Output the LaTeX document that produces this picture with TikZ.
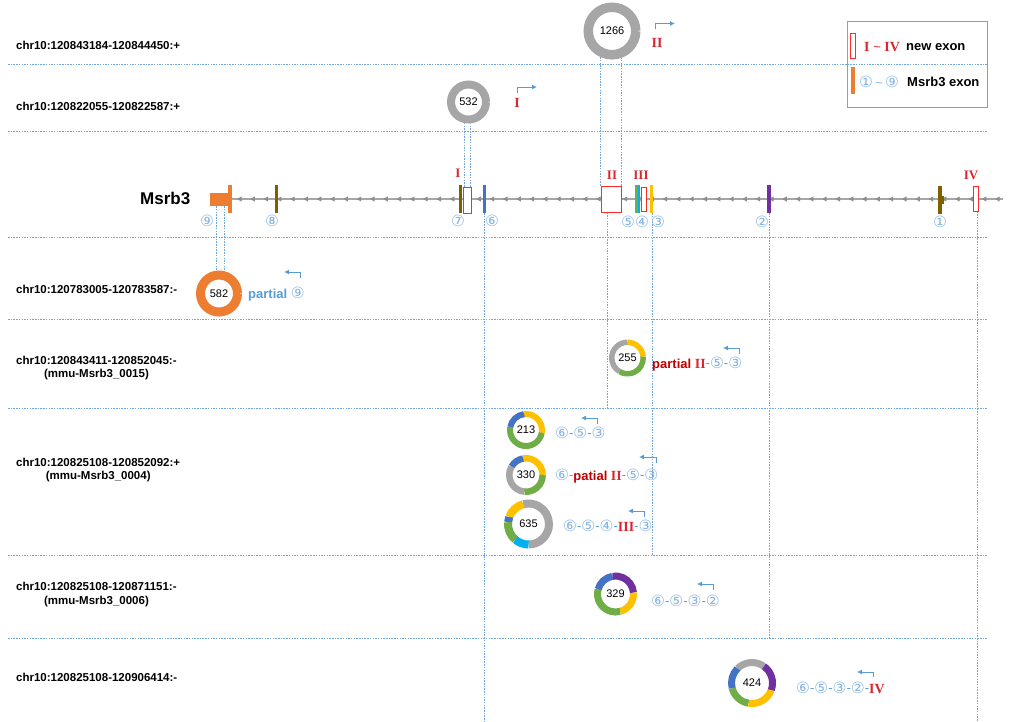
\documentclass[tikz,border=0pt]{standalone}
\usepackage{fontspec}
\setmainfont{Liberation Sans}
\newfontfamily\dv{DejaVu Sans}
\newfontfamily\rs{Liberation Serif}
\usetikzlibrary{arrows.meta,backgrounds}
\definecolor{gridblue}{HTML}{6FA6DB}
\definecolor{arrblue}{HTML}{5B9BD5}
\definecolor{circblue}{HTML}{86B4E2}
\definecolor{exred}{HTML}{FF2A2A}
\definecolor{romred}{HTML}{D92630}
\definecolor{darkred}{HTML}{C00000}
\definecolor{exorange}{HTML}{ED7D31}
\definecolor{exbrown}{HTML}{7F6000}
\definecolor{exblue}{HTML}{4472C4}
\definecolor{exgreen}{HTML}{70AD47}
\definecolor{excyan}{HTML}{00B0F0}
\definecolor{exyellow}{HTML}{FFC000}
\definecolor{expurple}{HTML}{7030A0}
\definecolor{ringgray}{HTML}{A6A6A6}
\newcommand\cn[1]{{\dv\fontsize{15.5}{15.5}\selectfont\color{circblue}#1}}
\newcommand\rn[1]{{\rs\bfseries\fontsize{14}{14}\selectfont\color{romred}#1}}
\newcommand\dsh{{\color{arrblue}\raisebox{1pt}{-}}}
\newcommand\seg[6]{\draw[line width=#3, #6] (#1.center) ++(#4:#2) arc[start angle=#4, end angle=#5, radius=#2];}
\begin{document}
\begin{tikzpicture}[x=1pt,y=-1pt,
  rowlab/.style={font=\bfseries\fontsize{11.5}{13.5}\selectfont, anchor=west, inner sep=0pt, align=center},
  num/.style={circle, fill=white, inner sep=0pt, font=\fontsize{11}{12}\selectfont},
  exbar/.style={rectangle, inner sep=0pt, minimum width=3pt, minimum height=28pt},
  newex/.style={rectangle, draw=exred, line width=0.9pt, fill=white, inner sep=0pt},
  cnum/.style={inner sep=0pt},
  roman/.style={font=\rs\bfseries\fontsize{13}{13}\selectfont, text=romred, inner sep=0pt},
  grid/.style={draw=gridblue, line width=0.55pt, dash pattern=on 1.5pt off 1.2pt},
  bent/.style={draw=arrblue, line width=0.9pt, -{Latex[length=5pt,width=5pt]}},
  lab/.style={anchor=west, inner sep=0pt, font=\fontsize{13}{13}\selectfont},
]
\useasboundingbox (0,0) rectangle (1010,721);

% grid line ends
\coordinate (h1) at (8,64);  \coordinate (h1e) at (988,64);
\coordinate (h2) at (8,131); \coordinate (h2e) at (988,131);
\coordinate (h3) at (8,237); \coordinate (h3e) at (988,237);
\coordinate (h4) at (8,319); \coordinate (h4e) at (988,319);
\coordinate (h5) at (8,408); \coordinate (h5e) at (988,408);
\coordinate (h6) at (8,555); \coordinate (h6e) at (988,555);
\coordinate (h7) at (8,638); \coordinate (h7e) at (988,638);
\coordinate (bot) at (8,721);
\coordinate (geneend) at (1003,199);

% row labels
\node[rowlab] (r1) at (16,45) {chr10:120843184-120844450:+};
\node[rowlab] (r2) at (16,106.5) {chr10:120822055-120822587:+};
\node[rowlab] (r3) at (16,289) {chr10:120783005-120783587:-};
\node[rowlab] (r4) at (16,368) {chr10:120843411-120852045:-\\(mmu-Msrb3\_0015)};
\node[rowlab] (r5) at (16,470) {chr10:120825108-120852092:+\\(mmu-Msrb3\_0004)};
\node[rowlab] (r6) at (16,594.5) {chr10:120825108-120871151:-\\(mmu-Msrb3\_0006)};
\node[rowlab] (r7) at (16,677) {chr10:120825108-120906414:-};

% gene
\node[anchor=west, inner sep=0pt, font=\bfseries\fontsize{17}{17}\selectfont] (msrb3) at (140,198) {Msrb3};
\node[rectangle, fill=exorange, inner sep=0pt, minimum width=19pt, minimum height=13pt] (e9) at (219.5,199.5) {};
\node[exbar, fill=exorange, minimum width=4pt] (e9cap) at (230,199) {};
\draw[ringgray, line width=2pt] (e9cap.east) -- (geneend);
\foreach \i in {0,...,57} {
  \fill[ringgray!85!black] ({237+13.3*\i},199) -- ++(4.5,-2.6) -- ++(0,5.2) -- cycle;
}
\node[exbar, fill=exbrown] (e8) at (276,199) {};
\node[exbar, fill=exbrown] (e7) at (460,199) {};
\node[newex, minimum width=8pt, minimum height=26pt] (bI) at (467,200) {};
\node[exbar, fill=exblue] (e6) at (484,199) {};
\node[newex, minimum width=20pt, minimum height=26pt] (bII) at (611,199) {};
\node[exbar, fill=exgreen] (e5) at (636,199) {};
\node[exbar, fill=excyan, minimum width=2.5pt] (e4) at (639,199) {};
\node[newex, minimum width=5pt, minimum height=24pt] (bIII) at (643.5,199) {};
\node[exbar, fill=exyellow] (e3) at (651,199) {};
\node[exbar, fill=expurple, minimum width=3.5pt] (e2) at (769,199) {};
\node[exbar, fill=exbrown, minimum width=3.5pt] (e1) at (940,199.5) {};
\fill[exbrown] (e1.east) ++(0,-4) rectangle ++(2.5,8);
\node[newex, minimum width=5pt, minimum height=25pt] (bIV) at (975.5,198.5) {};

% exon labels
\node[cnum] (l9) at (207,221) {\cn{⑨}};
\node[cnum] (l8) at (272,221) {\cn{⑧}};
\node[cnum] (l7) at (458,221) {\cn{⑦}};
\node[cnum] (l6) at (492,221) {\cn{⑥}};
\node[cnum] (l5) at (628,222) {\cn{⑤}};
\node[cnum] (l4) at (642,222) {\cn{④}};
\node[cnum] (l3) at (658,222) {\cn{③}};
\node[cnum] (l2) at (762,222) {\cn{②}};
\node[cnum] (l1) at (940,222) {\cn{①}};
\node[roman] (rI) at (458,173) {I};
\node[roman] (rII) at (612,175) {II};
\node[roman] (rIII) at (641,175) {III};
\node[roman] (rIV) at (971,175) {IV};

% donuts
\node[num, minimum size=57pt] (d1266) at (612,31) {1266};
\seg{d1266}{23.75pt}{9.5pt}{0}{360}{ringgray}
\node[num, minimum size=43pt] (d532) at (468.5,102) {532};
\seg{d532}{17.5pt}{8pt}{0}{360}{ringgray}
\node[num, minimum size=46pt] (d582) at (219,293.5) {582};
\seg{d582}{18.5pt}{9pt}{0}{360}{exorange}
\node[num, minimum size=37pt] (d255) at (627.5,358) {255};
\seg{d255}{15.75pt}{5.5pt}{5}{90}{exyellow}
\seg{d255}{15.75pt}{5.5pt}{90}{240}{ringgray}
\seg{d255}{15.75pt}{5.5pt}{240}{365}{exgreen}
\node[num, minimum size=38pt] (d213) at (526,430) {213};
\seg{d213}{16pt}{6pt}{-10}{97}{exyellow}
\seg{d213}{16pt}{6pt}{97}{170}{exblue}
\seg{d213}{16pt}{6pt}{170}{350}{exgreen}
\node[num, minimum size=40pt] (d330) at (526,475) {330};
\seg{d330}{16.75pt}{6.5pt}{0}{100}{exyellow}
\seg{d330}{16.75pt}{6.5pt}{100}{150}{exblue}
\seg{d330}{16.75pt}{6.5pt}{150}{265}{ringgray}
\seg{d330}{16.75pt}{6.5pt}{265}{360}{exgreen}
\node[num, minimum size=49pt] (d635) at (528.5,524) {635};
\seg{d635}{20.5pt}{8pt}{-90}{105}{ringgray}
\seg{d635}{20.5pt}{8pt}{105}{160}{exyellow}
\seg{d635}{20.5pt}{8pt}{160}{175}{exblue}
\seg{d635}{20.5pt}{8pt}{175}{230}{exgreen}
\seg{d635}{20.5pt}{8pt}{230}{270}{excyan}
\node[num, minimum size=43pt] (d329) at (615.5,594) {329};
\seg{d329}{18pt}{7pt}{-75}{5}{exyellow}
\seg{d329}{18pt}{7pt}{5}{100}{expurple}
\seg{d329}{18pt}{7pt}{100}{165}{exblue}
\seg{d329}{18pt}{7pt}{165}{285}{exgreen}
\node[num, minimum size=48pt] (d424) at (752,683) {424};
\seg{d424}{20.5pt}{7pt}{-100}{-20}{exyellow}
\seg{d424}{20.5pt}{7pt}{-20}{55}{expurple}
\seg{d424}{20.5pt}{7pt}{55}{135}{ringgray}
\seg{d424}{20.5pt}{7pt}{135}{195}{exblue}
\seg{d424}{20.5pt}{7pt}{195}{260}{exgreen}

% transcript labels
\node[roman, font=\rs\bfseries\fontsize{14}{14}\selectfont] (t1266) at (657,43) {II};
\node[roman, font=\rs\bfseries\fontsize{14}{14}\selectfont] (t532) at (517,103) {I};
\node[lab] (t582) at (248,294) {\textcolor{arrblue}{\bfseries partial} \cn{⑨}};
\node[lab] (t255) at (652,364) {\textcolor{darkred}{\bfseries partial} \rn{II}\dsh\cn{⑤}\dsh\cn{③}};
\node[lab] (t213) at (555,433) {\cn{⑥}\dsh\cn{⑤}\dsh\cn{③}};
\node[lab] (t330) at (555,476) {\cn{⑥}\dsh\textcolor{darkred}{\bfseries patial} \rn{II}\dsh\cn{⑤}\dsh\cn{③}};
\node[lab] (t635) at (563,526) {\cn{⑥}\dsh\cn{⑤}\dsh\cn{④}\dsh\rn{III}\dsh\cn{③}};
\node[lab] (t329) at (651,601) {\cn{⑥}\dsh\cn{⑤}\dsh\cn{③}\dsh\cn{②}};
\node[lab] (t424) at (796,688) {\cn{⑥}\dsh\cn{⑤}\dsh\cn{③}\dsh\cn{②}\dsh\rn{IV}};

% bent arrows
\draw[bent] (655,29) |- (675,23.5);
\draw[bent] (517,93) |- (537,87);
\draw[bent] (300,278) |- (284,272);
\draw[bent] (739,354) |- (723,348);
\draw[bent] (597,424) |- (581,418);
\draw[bent] (656,463) |- (639,457);
\draw[bent] (644,517) |- (628,511);
\draw[bent] (713,590) |- (697,584);
\draw[bent] (873,677) |- (857,672);

% legend
\node[draw=gridblue, line width=0.8pt, minimum width=140pt, minimum height=86pt, inner sep=0pt] (legend) at (917,64) {};
\node[newex, minimum width=5pt, minimum height=25pt] (lgI) at (852.5,45.5) {};
\node[rectangle, fill=exorange, inner sep=0pt, minimum width=4.5pt, minimum height=27pt] (lg9) at (853,80.5) {};
\node[lab] (lgt1) at (864,47) {\rn{I} {\color{romred}\textasciitilde} \rn{IV}};
\node[lab, font=\bfseries\fontsize{13}{13}\selectfont] (lgt1b) at (906,47) {new exon};
\node[lab] (lgt2) at (859,82) {\cn{①}{\color{circblue}\,\textasciitilde\,}\cn{⑨}};
\node[lab, font=\bfseries\fontsize{13}{13}\selectfont] (lgt2b) at (907,82) {Msrb3 exon};

% dotted guide lines behind everything
\begin{scope}[on background layer]
\foreach \k in {1,...,7} { \draw[grid] (h\k) -- (h\k e); }
\draw[grid] (bII.north west) -- (bII.north west |- d1266.center);
\draw[grid] (bII.north east) -- (bII.north east |- d1266.center);
\draw[grid] ([xshift=-3pt]bI.north) -- ([xshift=-3pt]bI.north |- d532.center);
\draw[grid] ([xshift=3pt]bI.north) -- ([xshift=3pt]bI.north |- d532.center);
\draw[grid] ([xshift=-3pt]e9.south) -- ([xshift=-3pt]e9.south |- d582.center);
\draw[grid] ([xshift=5pt]e9.south) -- ([xshift=5pt]e9.south |- d582.center);
\draw[grid] ([xshift=-4pt]bII.south) -- ([xshift=-4pt]bII.south |- h5);
\draw[grid] ([xshift=1pt]e3.south) -- ([xshift=1pt]e3.south |- h6);
\draw[grid] (e2.south) -- (e2.south |- h7);
\draw[grid] (e6.south) -- (e6.south |- bot);
\draw[grid] ([xshift=1.5pt]bIV.south) -- ([xshift=1.5pt]bIV.south |- bot);
\end{scope}
\end{tikzpicture}
\end{document}
